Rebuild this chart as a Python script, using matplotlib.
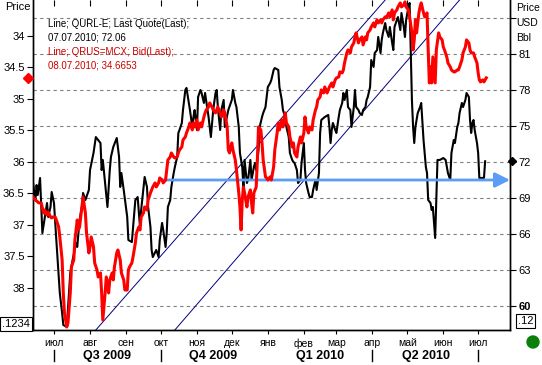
import matplotlib
matplotlib.use("Agg")
import matplotlib.dates as mdates
import matplotlib.pyplot as plt
import matplotlib.transforms as mtransforms
import pandas as pd
from matplotlib.patches import Ellipse

plt.rcParams["font.family"] = ["Liberation Sans", "DejaVu Sans"]

START = pd.Timestamp("2009-07-01")

# QURL-E, Last Quote (правая шкала, USD/Bbl), дни от 01.07.2009
black_day = [-18, -16, -15, -14, -12, -10, -6, -5, -3, -2,
             0, 2, 5, 7, 8, 11, 14, 16, 19, 20,
             22, 24, 25, 27, 30, 31, 34, 36, 40, 41,
             42, 44, 46, 48, 49, 51, 54, 56, 57, 58,
             60, 63, 64, 67, 70, 72, 74, 75, 78, 80,
             81, 83, 84, 85, 88, 90, 91, 93, 94, 96,
             97, 98, 100, 101, 103, 104, 106, 107, 108, 110,
             111, 113, 114, 116, 117, 119, 120, 121, 123, 124,
             126, 127, 129, 130, 133, 135, 137, 139, 140, 141,
             143, 144, 146, 147, 150, 153, 154, 156, 157, 159,
             160, 162, 163, 164, 166, 167, 169, 170, 172, 173,
             174, 176, 177, 179, 180, 182, 183, 184, 186, 187,
             189, 190, 193, 194, 196, 197, 199, 200, 202, 203,
             205, 206, 207, 209, 210, 212, 213, 215, 216, 217,
             219, 220, 222, 223, 225, 226, 228, 229, 230, 233,
             236, 237, 238, 239, 240, 242, 243, 245, 246, 248,
             249, 250, 252, 253, 255, 256, 258, 259, 260, 262,
             263, 265, 266, 268, 269, 270, 272, 273, 275, 276,
             278, 279, 281, 282, 283, 285, 286, 288, 289, 291,
             292, 293, 295, 296, 298, 299, 301, 302, 303, 305,
             306, 307, 308, 309, 310, 311, 312, 313, 315, 316,
             318, 319, 320, 321, 322, 324, 325, 326, 328, 329,
             330, 332, 335, 337, 339, 341, 342, 344, 345, 347,
             348, 349, 351, 352, 354, 355, 357, 358, 359, 360,
             361, 362, 364, 365, 366, 368, 370, 371]
black_val = [70.25, 68.83, 70.08, 69.25, 70.67, 66.08, 68.58, 67.42, 68.25, 69.5,
             68.58, 65.5, 61.08, 59.42, 58.42, 58.25, 62.75, 63.83, 65.25, 64.92,
             67.17, 68.25, 69.42, 68.83, 69.67, 71.33, 72.75, 74.08, 73.58, 71.33,
             72.17, 70.25, 68.25, 71.33, 72.42, 73.25, 74.0, 72.42, 69.92, 71.08,
             69.67, 67.42, 65.5, 65.33, 68.83, 69.08, 66.58, 68.0, 70.75, 69.92,
             68.25, 66.58, 64.67, 64.08, 64.67, 64.08, 65.5, 66.92, 66.33, 64.92,
             66.08, 68.25, 68.83, 69.92, 71.08, 71.58, 72.42, 74.42, 74.67, 75.25,
             76.33, 78.0, 78.17, 76.92, 76.33, 74.92, 75.75, 76.33, 74.67, 77.42,
             78.0, 77.75, 76.92, 77.75, 75.75, 74.08, 76.33, 77.75, 78.0, 76.58,
             74.67, 76.33, 77.17, 74.92, 76.33, 77.17, 78.0, 76.92, 76.58, 74.92,
             72.75, 71.58, 69.92, 72.17, 70.25, 70.5, 72.17, 70.5, 71.58, 71.92,
             71.33, 73.0, 74.92, 75.75, 76.08, 76.58, 77.42, 78.25, 78.58, 78.83,
             79.67, 79.83, 79.67, 78.25, 77.17, 76.33, 75.75, 74.92, 74.08, 72.75,
             72.17, 72.0, 71.92, 71.33, 70.25, 70.5, 71.92, 73.58, 71.33, 70.25,
             69.42, 69.08, 69.08, 69.67, 70.5, 69.67, 71.08, 74.42, 75.5, 75.75,
             75.92, 74.92, 73.58, 74.67, 75.25, 74.67, 74.42, 75.75, 76.33, 76.92,
             77.75, 77.17, 78.0, 76.58, 76.33, 74.92, 76.58, 78.0, 76.58, 76.33,
             76.08, 75.92, 76.33, 76.58, 77.17, 77.42, 78.25, 80.5, 79.92, 81.08,
             81.33, 82.42, 81.08, 82.17, 82.75, 83.58, 83.0, 82.42, 83.25, 81.92,
             81.33, 83.25, 83.83, 84.08, 83.0, 84.42, 83.25, 82.42, 83.83, 84.92,
             85.25, 81.33, 77.17, 74.92, 73.58, 74.92, 75.5, 76.08, 76.58, 76.92,
             73.83, 72.75, 71.58, 71.08, 68.83, 68.58, 68.0, 68.25, 65.67, 68.83,
             72.17, 72.17, 72.33, 72.17, 71.08, 70.5, 72.75, 73.83, 73.58, 74.92,
             75.25, 76.08, 76.92, 76.58, 77.17, 77.75, 77.42, 75.5, 74.42, 75.25,
             75.5, 74.67, 73.58, 72.75, 70.67, 70.67, 70.67, 72.06]

# QRUS=MCX, Bid (левая шкала, перевёрнутая)
red_day = [-18, -16, -13, -11, -9, -8, -6, -5, -3, -2,
           -1, 1, 2, 4, 5, 7, 8, 9, 11, 12,
           14, 15, 17, 18, 20, 21, 22, 24, 25, 27,
           28, 30, 31, 32, 34, 35, 37, 38, 40, 41,
           42, 44, 45, 47, 48, 50, 51, 52, 54, 55,
           57, 58, 60, 61, 63, 64, 65, 67, 68, 70,
           71, 73, 74, 75, 77, 78, 80, 81, 83, 84,
           85, 87, 88, 90, 91, 93, 94, 96, 97, 98,
           100, 101, 103, 104, 106, 107, 108, 110, 111, 113,
           114, 116, 117, 119, 120, 121, 123, 124, 126, 127,
           129, 130, 131, 133, 134, 136, 137, 139, 140, 141,
           143, 144, 146, 147, 149, 150, 151, 153, 154, 156,
           157, 159, 160, 161, 162, 163, 164, 166, 167, 169,
           170, 171, 172, 174, 175, 176, 178, 179, 180, 182,
           183, 184, 186, 187, 189, 190, 192, 193, 194, 196,
           197, 199, 200, 202, 203, 205, 206, 207, 209, 210,
           212, 213, 215, 216, 217, 219, 220, 222, 223, 225,
           226, 227, 229, 230, 232, 233, 235, 236, 237, 239,
           240, 242, 243, 245, 246, 248, 249, 250, 252, 253,
           255, 256, 258, 259, 260, 262, 263, 265, 266, 268,
           269, 270, 272, 273, 275, 276, 278, 279, 281, 282,
           283, 285, 286, 288, 289, 291, 292, 293, 295, 296,
           298, 299, 301, 302, 303, 305, 306, 308, 309, 310,
           311, 312, 314, 315, 316, 318, 319, 321, 322, 323,
           324, 325, 326, 328, 329, 331, 332, 334, 335, 336,
           338, 339, 341, 342, 344, 345, 347, 348, 349, 351,
           352, 354, 355, 357, 358, 359, 361, 362, 364, 365,
           366, 367, 369, 370, 371, 372]
red_val = [36.556, 36.603, 36.651, 36.651, 36.81, 36.762, 36.841, 36.794, 36.873, 36.889,
           36.873, 36.873, 36.921, 37.032, 37.19, 37.556, 38.079, 38.397, 38.619, 38.556,
           38.079, 37.667, 37.556, 37.238, 36.921, 37.079, 37.032, 36.714, 36.556, 36.81,
           37.127, 37.444, 37.349, 37.19, 37.349, 37.603, 37.714, 37.825, 37.762, 38.079,
           38.508, 38.079, 37.825, 38.079, 37.873, 37.762, 37.873, 37.667, 37.444, 37.397,
           37.556, 37.762, 37.873, 38.032, 38.032, 37.714, 37.667, 37.603, 37.508, 37.286,
           37.127, 37.032, 37.079, 36.873, 36.81, 36.714, 36.762, 36.603, 36.492, 36.444,
           36.397, 36.333, 36.397, 36.333, 36.254, 36.286, 36.333, 36.286, 36.127, 35.968,
           35.921, 35.857, 35.921, 35.937, 35.921, 35.857, 35.81, 35.762, 35.651, 35.603,
           35.54, 35.444, 35.381, 35.492, 35.381, 35.444, 35.333, 35.492, 35.381, 35.444,
           35.286, 35.222, 35.175, 35.127, 35.063, 35.127, 35.175, 35.222, 35.175, 35.127,
           35.222, 35.286, 35.175, 35.222, 35.444, 35.81, 35.857, 35.698, 35.81, 35.968,
           36.127, 36.492, 36.714, 37.079, 36.603, 36.397, 36.492, 36.714, 36.556, 36.444,
           36.651, 36.81, 36.492, 36.397, 35.968, 35.444, 35.492, 35.698, 35.968, 36.238,
           36.254, 36.286, 36.238, 36.286, 36.079, 35.81, 35.54, 35.381, 35.492, 35.333,
           35.444, 35.222, 35.381, 35.444, 35.603, 35.762, 35.698, 35.857, 35.921, 35.762,
           35.603, 35.698, 35.54, 35.286, 35.444, 35.54, 35.444, 35.492, 35.333, 35.175,
           35.127, 35.016, 34.968, 34.857, 34.905, 34.81, 34.905, 34.857, 34.81, 34.746,
           34.81, 34.698, 34.667, 34.651, 34.571, 34.587, 34.54, 34.429, 34.27, 34.222,
           34.27, 34.175, 34.111, 34.016, 33.952, 34.111, 34.063, 34.016, 34.143, 34.016,
           34.063, 33.952, 33.905, 33.857, 33.794, 33.857, 33.746, 33.794, 33.746, 33.794,
           33.746, 33.698, 33.714, 33.635, 33.698, 33.587, 33.746, 33.635, 33.587, 33.54,
           33.476, 33.54, 33.508, 33.46, 33.54, 33.587, 33.698, 33.952, 34.222, 34.063,
           33.746, 33.952, 33.635, 33.54, 33.476, 33.635, 33.698, 33.635, 34.222, 34.746,
           34.492, 34.746, 34.333, 34.746, 34.222, 33.952, 34.016, 34.063, 34.175, 34.222,
           34.333, 34.429, 34.492, 34.54, 34.571, 34.571, 34.54, 34.54, 34.492, 34.381,
           34.27, 34.175, 34.063, 34.111, 34.222, 34.27, 34.27, 34.333, 34.429, 34.587,
           34.698, 34.73, 34.698, 34.73, 34.698, 34.6653]

month_labels = ["июл", "авг", "сен", "окт", "ноя", "дек", "янв",
                "фев", "мар", "апр", "май", "июн", "июл"]
quarter_labels = ["Q3 2009", "Q4 2009", "Q1 2010", "Q2 2010"]
quarter_mid = ["2009-08-16", "2009-11-15", "2010-02-15", "2010-05-17"]
quarter_sep = ["2009-07-01", "2009-10-01", "2010-04-01", "2010-07-01"]

left_ticks = [34, 34.5, 35, 35.5, 36, 36.5, 37, 37.5, 38]
right_ticks = [60, 63, 66, 69, 72, 75, 78, 81, 84]
right_labels = ["60", "63", "66", "69", "72", "75", "78", "81", ""]

# трендовый канал (правая шкала)
channel_dates = [["2009-08-06", "2010-04-12"], ["2009-10-13", "2010-06-15"]]
channel_vals = [[58.0, 85.5], [58.0, 85.5]]

arrow_level = 70.5
arrow_start = "2009-09-30"

last_black = 72.06
last_red = 34.6653


def to_dates(days):
    return START + pd.to_timedelta(days, unit="D")


fig = plt.figure(figsize=(5.42, 3.65), dpi=100)
ax = fig.add_axes([33 / 542, 35 / 365, 477 / 542, 330 / 365])
ax2 = ax.twinx()

# black series on the right scale
ax.plot(to_dates(black_day), black_val, color="black", lw=1.5, zorder=3)
ax.yaxis.tick_right()
ax.set_ylim(58.0, 85.5)
ax.set_yticks(right_ticks)
ax.set_yticklabels(right_labels)
ax.get_yticklabels()[0].set_fontweight("bold")
ax.get_yticklabels()[0].set_fontsize(9.5)
ax.grid(axis="y", color="#808080", linestyle=(0, (3, 3)), lw=0.8)
ax.tick_params(axis="y", which="both", direction="out", length=4, pad=2, labelsize=8,
               left=False, right=True, labelleft=False, labelright=True)

for d, v in zip(channel_dates, channel_vals):
    ax.plot(pd.to_datetime(d), v, color="#000080", lw=0.7, zorder=2)

ax.annotate("", xy=(to_dates(392.4), arrow_level), xytext=(pd.Timestamp(arrow_start), arrow_level),
            arrowprops=dict(arrowstyle="-|>,head_length=0.9,head_width=0.45", mutation_scale=10,
                            color="#5b9cf5", lw=2.0, shrinkA=0, shrinkB=0),
            zorder=4)

# red series on the left inverted scale
ax2.plot(to_dates(red_day), red_val, color="#ff0000", lw=2.2, zorder=3)
ax2.set_ylim(38.667, 33.43)
ax2.set_yticks(left_ticks)
ax2.set_yticklabels([f"{t:g}" for t in left_ticks])
ax2.yaxis.tick_left()
ax2.tick_params(axis="y", direction="out", length=4, pad=2, labelsize=8,
                left=True, right=False, labelleft=True, labelright=False)

ax.set_xlim(to_dates(-18.07), to_dates(392.4))
months = pd.date_range("2009-07-01", "2010-07-01", freq="MS")
ax.set_xticks(months)
ax.set_xticklabels(month_labels)
ax.tick_params(axis="x", direction="out", length=3, pad=3, labelsize=7.5)

top = ax.secondary_xaxis("top")
top.set_xticks(mdates.date2num(months))
top.tick_params(axis="x", direction="in", length=4, labeltop=False)
top.spines["top"].set_visible(False)

for a in (ax, ax2):
    a.spines["top"].set_visible(False)
    a.spines["left"].set_linewidth(1.0)
    a.spines["right"].set_linewidth(1.0)
    a.spines["bottom"].set_linewidth(1.0)

# quarters under the month labels
trans = mtransforms.blended_transform_factory(ax.transData, ax.transAxes)
for lab, mid in zip(quarter_labels, quarter_mid):
    ax.text(pd.Timestamp(mid), -0.078, lab, transform=trans, ha="center", va="center",
            fontsize=9, fontweight="bold")
for sep in quarter_sep:
    ax.plot([pd.Timestamp(sep)] * 2, [-0.06, -0.095], transform=trans, color="black",
            lw=1.0, clip_on=False)

# last value markers
ax2.plot([-0.011], [last_red], marker="D", ms=5, color="#ff0000",
         transform=mtransforms.blended_transform_factory(ax2.transAxes, ax2.transData),
         clip_on=False, zorder=5)
ax.plot([1.004], [last_black], marker="D", ms=4.5, color="black",
        transform=mtransforms.blended_transform_factory(ax.transAxes, ax.transData),
        clip_on=False, zorder=5)

# legend text
ax.text(0.031, 1 - 24 / 330, "Line; QURL-E; Last Quote(Last);", transform=ax.transAxes,
        fontsize=7, va="center", color="black")
ax.text(0.031, 1 - 37 / 330, "07.07.2010; 72.06", transform=ax.transAxes,
        fontsize=7, va="center", color="black")
ax.text(0.031, 1 - 52 / 330, "Line; QRUS=MCX; Bid(Last);", transform=ax.transAxes,
        fontsize=7, va="center", color="#cc0000")
ax.text(0.031, 1 - 65 / 330, "08.07.2010; 34.6653", transform=ax.transAxes,
        fontsize=7, va="center", color="#cc0000")

fig.text(5 / 542, 1 - 7 / 365, "Price", fontsize=8, va="center")
fig.text(516 / 542, 1 - 8 / 365, "Price", fontsize=7.5, va="center")
fig.text(516 / 542, 1 - 23 / 365, "USD", fontsize=7.5, va="center")
fig.text(516 / 542, 1 - 38 / 365, "Bbl", fontsize=7.5, va="center")

box = dict(boxstyle="square,pad=0.15", fc="white", ec="black", lw=0.8)
fig.text(2 / 542, 1 - 324 / 365, ".1234", fontsize=8, va="center", bbox=box)
fig.text(518 / 542, 1 - 321 / 365, ".12", fontsize=8, va="center", bbox=box)

fig.add_artist(Ellipse((533 / 542, 1 - 342 / 365), 12 / 542, 12 / 365,
                       transform=fig.transFigure, color="#0a800a"))

fig.savefig("out.png", dpi=100)
